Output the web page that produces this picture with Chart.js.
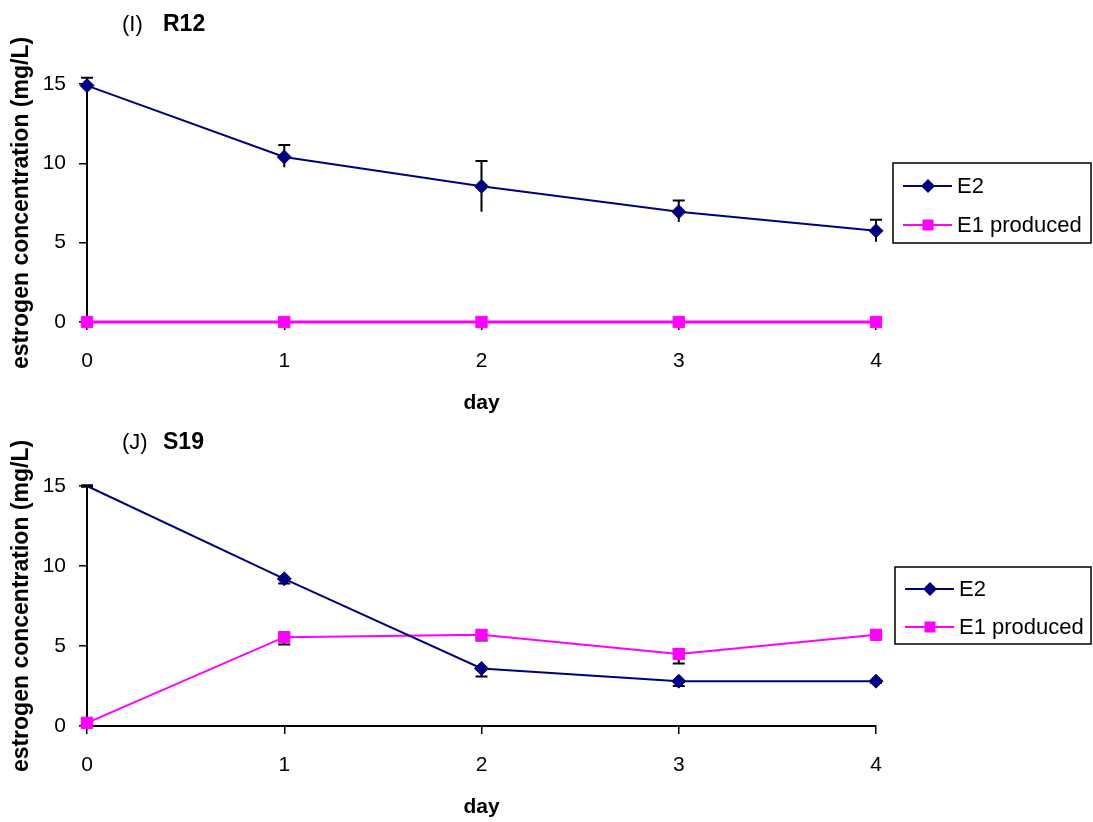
<!DOCTYPE html>
<html>
<head>
<meta charset="utf-8">
<script src="https://cdn.jsdelivr.net/npm/chart.js@4.4.0/dist/chart.umd.min.js"></script>
<style>
  html, body { margin: 0; padding: 0; background: #ffffff; }
  #c1 { position: absolute; left: 0; top: 0; }
  #c2 { position: absolute; left: 0; top: 418px; }
</style>
</head>
<body>
<canvas id="c1" width="1093" height="418"></canvas>
<canvas id="c2" width="1093" height="404"></canvas>
<script>
// ---- data ----
const days = ['0', '1', '2', '3', '4'];
const yTicks = [0, 5, 10, 15];
const seriesNames = ['E2', 'E1 produced'];

// Panel (I) R12  (error bars: plus / minus)
const r12E2 = [14.9, 10.4, 8.55, 6.95, 5.75];
const r12E2ErrUp = [0.5, 0.75, 1.6, 0.7, 0.7];
const r12E2ErrDown = [0.5, 0.65, 1.6, 0.65, 0.7];
const r12E1 = [0, 0, 0, 0, 0];
const r12E1ErrUp = [0, 0, 0, 0, 0];
const r12E1ErrDown = [0, 0, 0, 0, 0];

// Panel (J) S19
const s19E2 = [15.0, 9.2, 3.6, 2.8, 2.8];
const s19E2ErrUp = [0.05, 0, 0, 0, 0];
const s19E2ErrDown = [0.05, 0.3, 0.5, 0.3, 0.1];
const s19E1 = [0.2, 5.55, 5.7, 4.5, 5.7];
const s19E1ErrUp = [0, 0, 0, 0.3, 0.1];
const s19E1ErrDown = [0.1, 0.45, 0.35, 0.6, 0.1];

const FONT = '"Liberation Sans", Arial, sans-serif';
const NAVY = '#000080';
const PINK = '#FF00FF';

// ---- plugins ----
const errorBars = {
  id: 'errorBars',
  beforeDatasetsDraw(chart, args, opts) {
    const ctx = chart.ctx;
    const yS = chart.scales.y;
    ctx.save();
    ctx.strokeStyle = '#000';
    ctx.lineWidth = 2;
    chart.data.datasets.forEach((ds, i) => {
      const meta = chart.getDatasetMeta(i);
      ds.data.forEach((v, j) => {
        const up = (ds.errUp || [])[j] || 0;
        const dn = (ds.errDown || [])[j] || 0;
        const x = meta.data[j].x;
        const y0 = yS.getPixelForValue(v);
        ctx.beginPath();
        if (up) {
          const yt = yS.getPixelForValue(v + up);
          ctx.moveTo(x, y0); ctx.lineTo(x, yt);
          if (opts.capUp) { ctx.moveTo(x - 6, yt); ctx.lineTo(x + 6, yt); }
        }
        if (dn) {
          const yb = yS.getPixelForValue(v - dn);
          ctx.moveTo(x, y0); ctx.lineTo(x, yb);
          if (opts.capDown) { ctx.moveTo(x - 6, yb); ctx.lineTo(x + 6, yb); }
        }
        ctx.stroke();
      });
    });
    ctx.restore();
  }
};

const panelTitle = {
  id: 'panelTitle',
  afterDraw(chart, args, opts) {
    const ctx = chart.ctx;
    ctx.save();
    ctx.fillStyle = '#000';
    ctx.textBaseline = 'middle';
    ctx.textAlign = 'left';
    ctx.font = '22px ' + FONT;
    ctx.fillText(opts.prefix, opts.x, opts.y);
    ctx.font = 'bold 23px ' + FONT;
    ctx.fillText(opts.name, opts.x + 41, opts.y);
    ctx.restore();
  }
};

const boxLegend = {
  id: 'boxLegend',
  afterDraw(chart, args, opts) {
    const ctx = chart.ctx;
    ctx.save();
    ctx.strokeStyle = '#000';
    ctx.lineWidth = 1.5;
    ctx.strokeRect(opts.x, opts.y, opts.w, opts.h);
    chart.data.datasets.forEach((ds, i) => {
      const cy = opts.y + opts.firstRow + i * opts.rowGap;
      const lx0 = opts.x + 10, lx1 = opts.x + 59, mx = opts.x + 35;
      ctx.strokeStyle = ds.borderColor;
      ctx.lineWidth = 2;
      ctx.beginPath(); ctx.moveTo(lx0, cy); ctx.lineTo(lx1, cy); ctx.stroke();
      ctx.fillStyle = ds.pointBackgroundColor;
      ctx.beginPath();
      if (ds.pointStyle === 'rectRot') {
        ctx.moveTo(mx - 7, cy); ctx.lineTo(mx, cy - 7); ctx.lineTo(mx + 7, cy); ctx.lineTo(mx, cy + 7);
        ctx.closePath();
      } else {
        ctx.rect(mx - 5.5, cy - 5.5, 11, 11);
      }
      ctx.fill();
      ctx.fillStyle = '#000';
      ctx.font = '22px ' + FONT;
      ctx.textBaseline = 'middle';
      ctx.textAlign = 'left';
      ctx.fillText(ds.label, opts.x + 64, cy + 1);
    });
    ctx.restore();
  }
};

function makeDatasets(e2, e2up, e2dn, e1, e1up, e1dn, e2Radius, e1Width) {
  return [
    {
      label: seriesNames[0], data: e2, errUp: e2up, errDown: e2dn,
      borderColor: NAVY, backgroundColor: NAVY, borderWidth: 2,
      pointStyle: 'rectRot', pointRadius: e2Radius, pointBackgroundColor: NAVY,
      pointBorderColor: NAVY, pointBorderWidth: 1, tension: 0, clip: false
    },
    {
      label: seriesNames[1], data: e1, errUp: e1up, errDown: e1dn,
      borderColor: PINK, backgroundColor: PINK, borderWidth: e1Width,
      pointStyle: 'rect', pointRadius: 8, pointBackgroundColor: PINK,
      pointBorderColor: PINK, pointBorderWidth: 1, tension: 0, clip: false
    }
  ];
}

function makeOptions(chartTop, xHeight, titleOpts, legendOpts, errOpts) {
  return {
    responsive: false,
    animation: false,
    devicePixelRatio: 1,
    layout: { padding: { top: chartTop, right: 217, left: 0, bottom: 0 } },
    plugins: {
      legend: { display: false },
      title: { display: false },
      tooltip: { enabled: false },
      panelTitle: titleOpts,
      boxLegend: legendOpts,
      errorBars: errOpts
    },
    scales: {
      x: {
        type: 'category',
        offset: false,
        afterFit(s) { s.height = xHeight; },
        grid: { display: true, drawOnChartArea: false, drawTicks: true, tickLength: 8, color: '#000', lineWidth: 1.5 },
        border: { display: true, color: '#000', width: 2 },
        ticks: { color: '#000', font: { family: FONT, size: 21 }, padding: 19, maxRotation: 0 },
        title: { display: true, text: 'day', color: '#000', font: { family: FONT, size: 21, weight: 'bold' }, padding: { top: 0, bottom: 2 } }
      },
      y: {
        min: 0, max: 15,
        afterFit(s) { s.width = 87; },
        afterBuildTicks(s) { s.ticks = yTicks.map(v => ({ value: v })); },
        grid: { display: true, drawOnChartArea: false, drawTicks: true, tickLength: 8, color: '#000', lineWidth: 1.5 },
        border: { display: true, color: '#000', width: 2 },
        ticks: { color: '#000', font: { family: FONT, size: 21 }, padding: 13 },
        title: { display: true, text: 'estrogen concentration (mg/L)', color: '#000', font: { family: FONT, size: 23, weight: 'bold' }, padding: { top: 8, bottom: 0 } }
      }
    }
  };
}

new Chart(document.getElementById('c1'), {
  type: 'line',
  data: { labels: days, datasets: makeDatasets(r12E2, r12E2ErrUp, r12E2ErrDown, r12E1, r12E1ErrUp, r12E1ErrDown, 7, 3) },
  options: makeOptions(84, 418 - 322,
    { prefix: '(I)', name: 'R12', x: 122, y: 25 },
    { x: 893, y: 163, w: 198, h: 80, firstRow: 23, rowGap: 39 },
    { capUp: true, capDown: false }),
  plugins: [errorBars, panelTitle, boxLegend]
});

new Chart(document.getElementById('c2'), {
  type: 'line',
  data: { labels: days, datasets: makeDatasets(s19E2, s19E2ErrUp, s19E2ErrDown, s19E1, s19E1ErrUp, s19E1ErrDown, [0, 7, 7, 7, 7], 2) },
  options: makeOptions(486 - 418, 404 - (726 - 418),
    { prefix: '(J)', name: 'S19', x: 122, y: 25 },
    { x: 895, y: 567 - 418, w: 196, h: 77, firstRow: 22, rowGap: 38 },
    { capUp: true, capDown: true }),
  plugins: [errorBars, panelTitle, boxLegend]
});
</script>
</body>
</html>
